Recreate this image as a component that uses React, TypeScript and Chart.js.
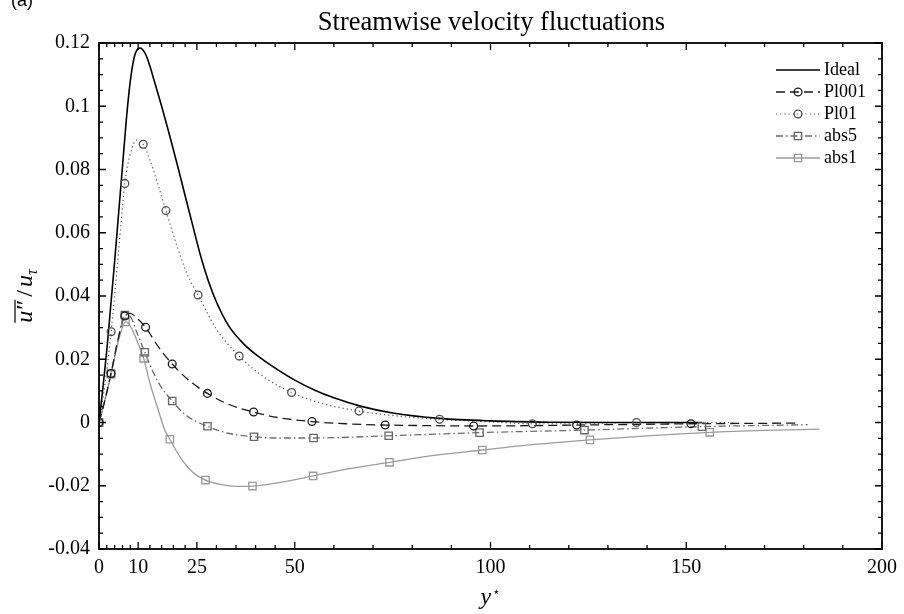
import { useEffect, useRef } from "react";
import { Chart, registerables } from "chart.js";

Chart.register(...registerables);

const FONT = '"Liberation Serif", "Times New Roman", serif';

// ---- axis ticks ----
const xMajorTicks = [0, 10, 25, 50, 100, 150, 200];
const xMinorTicks = [2, 4, 6, 8, 13, 16, 19, 22, 30, 35, 40, 45, 60, 70, 80, 90, 110, 120, 130, 140, 160, 170, 180, 190];
const yMajorTicks = [-0.04, -0.02, 0, 0.02, 0.04, 0.06, 0.08, 0.1, 0.12];
const yMinorTicks = [-0.035, -0.03, -0.025, -0.015, -0.01, -0.005, 0.005, 0.01, 0.015, 0.025, 0.03, 0.035, 0.045, 0.05, 0.055, 0.065, 0.07, 0.075, 0.085, 0.09, 0.095, 0.105, 0.11, 0.115];

// ---- Ideal ----
const idealX = [0, 1, 2, 3, 4, 5, 6, 7, 8, 9, 10, 10.5, 11, 12, 13, 14, 16, 18, 20, 22, 24, 26, 28, 30, 33, 37, 41.5, 46, 50, 55, 60, 67, 75, 87, 100, 115, 130, 154];
const idealY = [0, 0.011, 0.023, 0.037, 0.051, 0.066, 0.081, 0.096, 0.108, 0.1155, 0.1182, 0.1184, 0.1181, 0.1162, 0.1127, 0.1085, 0.1, 0.091, 0.0815, 0.0717, 0.062, 0.0525, 0.0445, 0.0381, 0.0308, 0.0248, 0.0202, 0.0164, 0.0134, 0.0103, 0.0078, 0.0051, 0.003, 0.0013, 0.0005, 0.0001, 0, 0];

// ---- Pl001 ----
const pl001X = [0, 1.5, 3.06, 5, 6.6, 8, 9.5, 11.9, 15, 18.7, 23, 27.7, 33, 39.5, 46, 54.4, 63, 73.1, 85, 95.7, 110, 122, 137, 151.2, 178];
const pl001Y = [0, 0.007, 0.0155, 0.027, 0.0337, 0.0345, 0.0332, 0.0301, 0.0242, 0.0185, 0.0133, 0.0092, 0.0058, 0.0033, 0.0015, 0.0003, -0.0004, -0.0008, -0.001, -0.0011, -0.001, -0.0008, -0.0006, -0.0004, -0.0002];
const pl001MarkX = [0, 3.06, 6.6, 11.9, 18.7, 27.7, 39.5, 54.4, 73.1, 95.7, 122, 151.2];
const pl001MarkY = [0, 0.0155, 0.0337, 0.0301, 0.0185, 0.0092, 0.0033, 0.0003, -0.0008, -0.0011, -0.0008, -0.0004];

// ---- Pl01 ----
const pl01X = [0, 1.5, 3.1, 5, 6.6, 8, 9.6, 11.3, 13, 15, 17.1, 20, 22.5, 25.3, 30, 35.8, 42, 49.2, 57, 66.4, 75, 87, 100, 110.7, 122, 137.3, 150, 162];
const pl01Y = [0, 0.012, 0.0287, 0.054, 0.0756, 0.085, 0.0893, 0.088, 0.083, 0.0755, 0.067, 0.0555, 0.047, 0.0403, 0.0295, 0.021, 0.0145, 0.0095, 0.006, 0.0036, 0.0022, 0.001, 0.0002, -0.0004, -0.0004, 0, 0, 0];
const pl01MarkX = [0, 3.1, 6.6, 11.3, 17.1, 25.3, 35.8, 49.2, 66.4, 87, 110.7, 137.3];
const pl01MarkY = [0, 0.0287, 0.0756, 0.088, 0.067, 0.0403, 0.021, 0.0095, 0.0036, 0.001, -0.0004, 0];

// ---- abs5 ----
const abs5X = [0, 1.5, 3.06, 5, 6.6, 8, 9.5, 11.7, 14, 16, 18.7, 22, 27.7, 33, 39.6, 46, 54.8, 74, 97.2, 124, 154, 181];
const abs5Y = [0, 0.007, 0.0155, 0.027, 0.034, 0.0335, 0.029, 0.0222, 0.0155, 0.011, 0.0068, 0.0025, -0.0012, -0.0034, -0.0045, -0.0049, -0.0049, -0.0042, -0.0032, -0.0024, -0.0013, -0.0007];
const abs5MarkX = [0, 3.06, 6.6, 11.7, 18.7, 27.7, 39.6, 54.8, 74, 97.2, 124, 154];
const abs5MarkY = [0, 0.0155, 0.034, 0.0222, 0.0068, -0.0012, -0.0045, -0.0049, -0.0042, -0.0032, -0.0024, -0.0013];

// ---- abs1 ----
const abs1X = [0, 1.5, 3.06, 5, 6.8, 8, 9.5, 11.4, 13, 15, 16.8, 18.1, 21, 24, 27.2, 31, 35, 39.2, 46, 54.7, 64, 74.2, 85, 97.9, 110, 125.4, 140, 156, 170, 184];
const abs1Y = [0, 0.007, 0.0152, 0.026, 0.0318, 0.0305, 0.0265, 0.0203, 0.0125, 0.0045, -0.0024, -0.0053, -0.0115, -0.0158, -0.0182, -0.0196, -0.0202, -0.0201, -0.019, -0.0169, -0.0146, -0.0126, -0.0105, -0.0087, -0.0071, -0.0055, -0.0042, -0.0031, -0.0025, -0.0021];
const abs1MarkX = [0, 3.06, 6.8, 11.4, 18.1, 27.2, 39.2, 54.7, 74.2, 97.9, 125.4, 156];
const abs1MarkY = [0, 0.0152, 0.0318, 0.0203, -0.0053, -0.0182, -0.0201, -0.0169, -0.0126, -0.0087, -0.0055, -0.0031];

const seriesNames = ["Ideal", "Pl001", "Pl01", "abs5", "abs1"];

type Style = { color: string; width: number; dash: number[]; marker: string | null; mColor: string; mRadius: number };
const styles: Style[] = [
  { color: "#000000", width: 1.6, dash: [], marker: null, mColor: "#000", mRadius: 0 },
  { color: "#1a1a1a", width: 1.3, dash: [9, 5], marker: "circle", mColor: "#1a1a1a", mRadius: 3.9 },
  { color: "#555555", width: 1.2, dash: [1.2, 3], marker: "circle", mColor: "#505050", mRadius: 3.9 },
  { color: "#6c6c6c", width: 1.3, dash: [7, 3, 1.5, 3], marker: "rect", mColor: "#666666", mRadius: 5.2 },
  { color: "#9c9c9c", width: 1.3, dash: [], marker: "rect", mColor: "#999999", mRadius: 5.2 },
];

const zip = (xs: number[], ys: number[]) => xs.map((x, i) => ({ x, y: ys[i] }));

const lineSets = [
  zip(idealX, idealY),
  zip(pl001X, pl001Y),
  zip(pl01X, pl01Y),
  zip(abs5X, abs5Y),
  zip(abs1X, abs1Y),
];
const markSets = [
  null,
  zip(pl001MarkX, pl001MarkY),
  zip(pl01MarkX, pl01MarkY),
  zip(abs5MarkX, abs5MarkY),
  zip(abs1MarkX, abs1MarkY),
];

const decorPlugin = {
  id: "decor",
  afterDraw(chart: any) {
    const { ctx, chartArea } = chart;
    const { left, right, top, bottom } = chartArea;
    const xs = chart.scales.x;
    const ys = chart.scales.y;
    ctx.save();

    // ticks (inward on all four sides)
    ctx.strokeStyle = "#000";
    ctx.lineWidth = 1.3;
    ctx.setLineDash([]);
    const drawX = (vals: number[], len: number) => {
      vals.forEach((v) => {
        const px = xs.getPixelForValue(v);
        ctx.beginPath();
        ctx.moveTo(px, bottom);
        ctx.lineTo(px, bottom - len);
        ctx.moveTo(px, top);
        ctx.lineTo(px, top + len);
        ctx.stroke();
      });
    };
    const drawY = (vals: number[], len: number) => {
      vals.forEach((v) => {
        const py = ys.getPixelForValue(v);
        ctx.beginPath();
        ctx.moveTo(left, py);
        ctx.lineTo(left + len, py);
        ctx.moveTo(right, py);
        ctx.lineTo(right - len, py);
        ctx.stroke();
      });
    };
    drawX(xMajorTicks, 7);
    drawX(xMinorTicks, 4);
    drawY(yMajorTicks, 7);
    drawY(yMinorTicks, 4);

    // frame
    ctx.lineWidth = 1.8;
    ctx.strokeRect(left, top, right - left, bottom - top);

    // title
    ctx.fillStyle = "#000";
    ctx.font = `26.5px ${FONT}`;
    ctx.textAlign = "center";
    ctx.textBaseline = "alphabetic";
    ctx.fillText("Streamwise velocity fluctuations", (left + right) / 2 + 1, 30);

    // panel label
    ctx.textAlign = "left";
    ctx.font = `18px "Liberation Sans", Arial, sans-serif`;
    ctx.fillText("(a)", 11, 6);

    // x axis title  y*
    const fy = `italic 24px ${FONT}`;
    const fstar = `13px "DejaVu Sans", sans-serif`;
    ctx.font = fy;
    const wy = ctx.measureText("y").width;
    ctx.font = fstar;
    const wst = ctx.measureText("⋆").width;
    const cx = (left + right) / 2;
    const sx = cx - (wy + wst + 1) / 2;
    ctx.font = fy;
    ctx.fillText("y", sx, 604);
    ctx.font = fstar;
    ctx.fillText("⋆", sx + wy + 1, 596);

    // y axis title  overline(u″)/u_τ
    ctx.save();
    ctx.translate(32, (top + bottom) / 2);
    ctx.rotate(-Math.PI / 2);
    const fi = `italic 24px ${FONT}`;
    const fr = `24px ${FONT}`;
    const fsub = `italic 16px ${FONT}`;
    const parts = [
      { t: "u", f: fi, dy: 0, pad: 0 },
      { t: "″", f: fr, dy: 0, pad: 1 },
      { t: "/", f: fr, dy: 0, pad: 3 },
      { t: "u", f: fi, dy: 0, pad: 3 },
      { t: "τ", f: fsub, dy: 5, pad: 0 },
    ];
    const widths = parts.map((p) => {
      ctx.font = p.f;
      return ctx.measureText(p.t).width;
    });
    const total = widths.reduce((a, b, i) => a + b + parts[i].pad, 0);
    let px = -total / 2;
    const overStart = px;
    let overEnd = px;
    parts.forEach((p, i) => {
      px += p.pad;
      ctx.font = p.f;
      ctx.fillText(p.t, px, p.dy);
      px += widths[i];
      if (i === 1) overEnd = px;
    });
    ctx.lineWidth = 1.2;
    ctx.beginPath();
    ctx.moveTo(overStart, -17);
    ctx.lineTo(overEnd, -17);
    ctx.stroke();
    ctx.restore();

    // legend
    const rows = [70, 92, 114, 136, 158];
    const lx0 = 776;
    const lx1 = 820;
    seriesNames.forEach((name, i) => {
      const s = styles[i];
      const yy = rows[i];
      ctx.save();
      ctx.strokeStyle = s.color;
      ctx.lineWidth = s.width;
      ctx.setLineDash(s.dash);
      ctx.beginPath();
      ctx.moveTo(lx0, yy);
      ctx.lineTo(lx1, yy);
      ctx.stroke();
      ctx.setLineDash([]);
      if (s.marker) {
        ctx.strokeStyle = s.mColor;
        ctx.lineWidth = 1.3;
        const mx = (lx0 + lx1) / 2;
        ctx.beginPath();
        if (s.marker === "circle") {
          ctx.arc(mx, yy, s.mRadius, 0, Math.PI * 2);
        } else {
          const h = s.mRadius * Math.SQRT1_2;
          ctx.rect(mx - h, yy - h, 2 * h, 2 * h);
        }
        ctx.stroke();
      }
      ctx.restore();
      ctx.fillStyle = "#000";
      ctx.font = `18px ${FONT}`;
      ctx.textAlign = "left";
      ctx.textBaseline = "middle";
      ctx.fillText(name, 824, yy);
    });

    ctx.restore();
  },
};

export default function App() {
  const ref = useRef<HTMLCanvasElement | null>(null);

  useEffect(() => {
    if (!ref.current) return;
    const datasets: any[] = [];
    seriesNames.forEach((name, i) => {
      const s = styles[i];
      const m = markSets[i];
      if (m) {
        datasets.push({
          label: name + " markers",
          data: m,
          showLine: false,
          pointStyle: s.marker,
          pointRadius: s.mRadius,
          pointBorderWidth: 1.3,
          pointBorderColor: s.mColor,
          pointBackgroundColor: "rgba(0,0,0,0)",
        });
      }
    });
    seriesNames.forEach((name, i) => {
      const s = styles[i];
      datasets.push({
        label: name,
        data: lineSets[i],
        showLine: true,
        borderColor: s.color,
        borderWidth: s.width,
        borderDash: s.dash,
        pointRadius: 0,
        cubicInterpolationMode: "monotone",
        fill: false,
      });
    });

    const chart = new Chart(ref.current, {
      type: "scatter",
      data: { datasets },
      options: {
        responsive: false,
        animation: false,
        devicePixelRatio: 1,
        events: [],
        layout: { padding: { left: 0, right: 22, top: 43, bottom: 0 } },
        plugins: {
          legend: { display: false },
          tooltip: { enabled: false },
          title: { display: false },
        },
        scales: {
          x: {
            type: "linear",
            min: 0,
            max: 200,
            grid: { display: false, drawTicks: false },
            border: { display: false },
            ticks: {
              autoSkip: false,
              maxRotation: 0,
              padding: 7,
              color: "#000",
              font: { family: FONT, size: 20 },
              callback: (v: any) => String(v),
            },
            afterBuildTicks: (s: any) => {
              s.ticks = xMajorTicks.map((v) => ({ value: v }));
            },
            afterFit: (s: any) => {
              s.height = 65;
            },
          },
          y: {
            type: "linear",
            min: -0.04,
            max: 0.12,
            grid: { display: false, drawTicks: false },
            border: { display: false },
            ticks: {
              autoSkip: false,
              padding: 9,
              color: "#000",
              font: { family: FONT, size: 20 },
              callback: (v: any) => {
                const r = Math.round(Number(v) * 1000) / 1000;
                return r === 0 ? "0" : String(r);
              },
            },
            afterBuildTicks: (s: any) => {
              s.ticks = yMajorTicks.map((v) => ({ value: v }));
            },
            afterFit: (s: any) => {
              s.width = 99;
            },
          },
        },
      } as any,
      plugins: [decorPlugin],
    });
    return () => chart.destroy();
  }, []);

  return (
    <div style={{ position: "fixed", left: 0, top: 0, width: 904, height: 614, background: "#fff" }}>
      <canvas ref={ref} width={904} height={614} style={{ display: "block" }} />
    </div>
  );
}
